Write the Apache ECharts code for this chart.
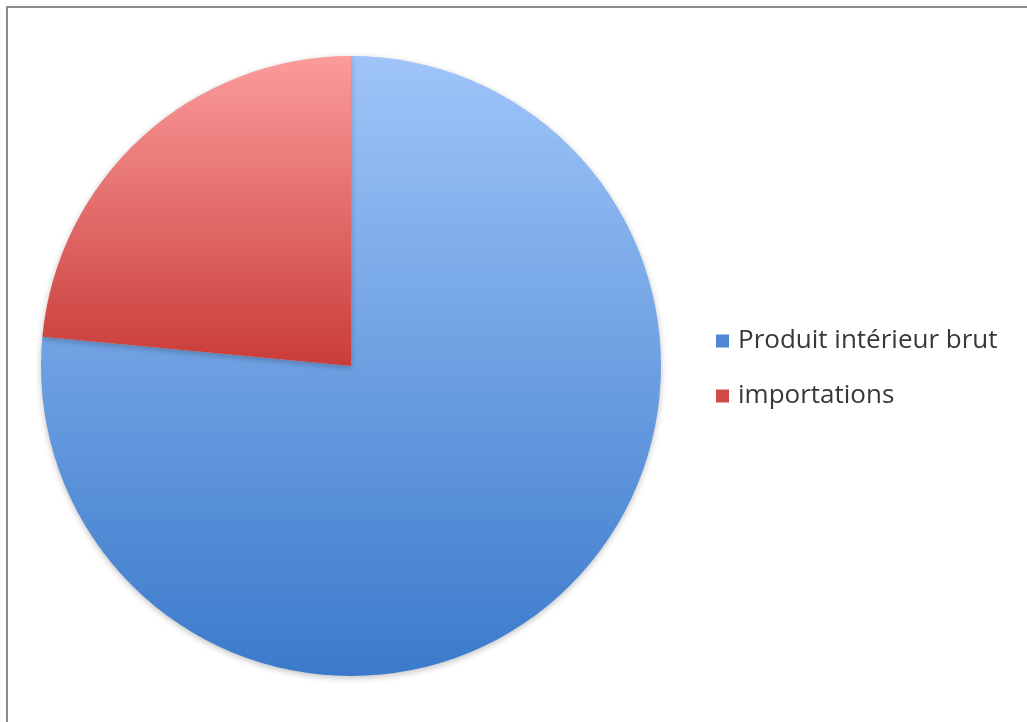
<!DOCTYPE html>
<html>
<head>
<meta charset="utf-8">
<script src="https://cdn.jsdelivr.net/npm/echarts@6/dist/echarts.min.js"></script>
<style>
html,body{margin:0;padding:0;background:#fff;}
#c{width:1027px;height:722px;}
</style>
</head>
<body>
<div id="c"></div>
<script>
const categories = ['Produit intérieur brut', 'importations'];
const values = [76.5, 23.5];
const topColors = ['#9fc5f9', '#fb9c9b'];
const bottomColors = ['#3b7acb', '#c93c39'];
const legendColors = ['#4f86d6', '#d04a48'];

const chart = echarts.init(document.getElementById('c'), null, {renderer: 'canvas'});
const data = categories.map((name, i) => ({
  name: name,
  value: values[i],
  itemStyle: {
    color: new echarts.graphic.LinearGradient(0, 0, 0, 1, [
      {offset: 0, color: topColors[i]},
      {offset: 1, color: bottomColors[i]}
    ])
  }
}));
chart.setOption({
  animation: false,
  backgroundColor: '#fff',
  graphic: [{
    type: 'rect',
    shape: {x: 7, y: 7, width: 1030, height: 730},
    style: {fill: 'none', stroke: '#8c8c8c', lineWidth: 2},
    silent: true
  }],
  legend: {
    orient: 'vertical',
    left: 716,
    top: 328,
    padding: 0,
    itemWidth: 13,
    itemHeight: 13,
    itemGap: 29,
    icon: 'rect',
    textStyle: {fontFamily: 'Open Sans', fontSize: 26, lineHeight: 26, color: '#383838', padding: [0, 0, 0, 4]},
    data: categories.map((n, i) => ({name: n, itemStyle: {color: legendColors[i]}}))
  },
  series: [{
    type: 'pie',
    center: [351, 366],
    radius: 310,
    startAngle: 90,
    clockwise: true,
    label: {show: false},
    labelLine: {show: false},
    itemStyle: {shadowBlur: 6, shadowColor: 'rgba(0,0,0,0.25)', shadowOffsetY: 2},
    emphasis: {disabled: true},
    data: data
  }]
});
</script>
</body>
</html>
